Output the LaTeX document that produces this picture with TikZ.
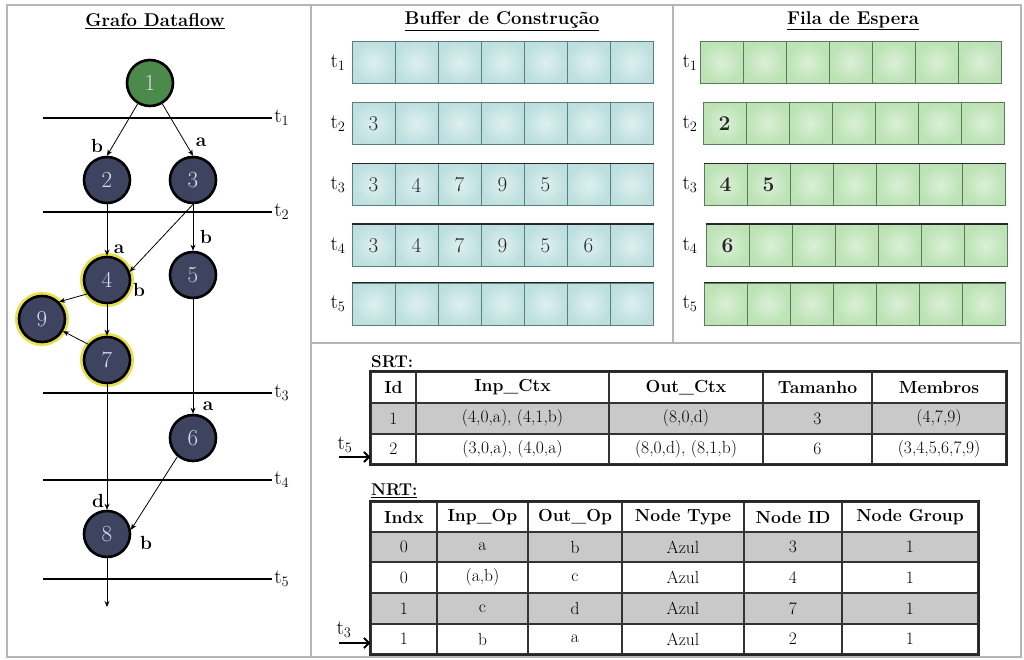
\documentclass[tikz,border=0pt]{standalone}
\usetikzlibrary{arrows.meta}
\definecolor{nodeblue}{HTML}{3E4460}
\definecolor{nodegreen}{HTML}{4B8A4A}
\definecolor{ringyellow}{HTML}{E8E04A}
\definecolor{bufin}{HTML}{DDF0F0}
\definecolor{bufout}{HTML}{BEDFDF}
\definecolor{bufline}{HTML}{5A7D7D}
\definecolor{filain}{HTML}{DAF0D6}
\definecolor{filaout}{HTML}{BCE2B5}
\definecolor{filaline}{HTML}{5B7A58}
\definecolor{rowgray}{HTML}{C9C9C9}
\definecolor{framegray}{HTML}{B5B5B5}
\definecolor{numtext}{HTML}{DADDE8}
\newcommand\myfs[1]{\fontsize{#1}{#1}\selectfont}
\begin{document}
\begin{tikzpicture}[x=1pt,y=-1pt,
  frame/.style={draw=framegray, line width=1.5},
  title/.style={font=\bfseries\myfs{18.5}},
  gnode/.style={circle, draw=black, line width=2.6, fill=nodeblue, minimum size=46, inner sep=0, text=numtext, font=\myfs{23}},
  gnodegreen/.style={gnode, fill=nodegreen},
  ynode/.style={gnode, preaction={draw=ringyellow, line width=8}},
  edge/.style={-{Stealth[length=6,width=5]}, line width=0.8},
  tline/.style={line width=2.6},
  tlab/.style={font=\myfs{20}, inner sep=1},
  elab/.style={font=\bfseries\myfs{19}, inner sep=0},
  bcell/.style={rectangle, draw=bufline, line width=1, minimum width=43, minimum height=42, inner sep=0, inner color=bufin, outer color=bufout},
  fcell/.style={rectangle, draw=filaline, line width=1, minimum width=43, minimum height=42, inner sep=0, inner color=filain, outer color=filaout},
  bnum/.style={font=\myfs{21}, text=black!85, inner sep=0},
  fnum/.style={font=\bfseries\myfs{21}, text=black!85, inner sep=0},
  tcell/.style={rectangle, draw=black!80, line width=1.2, inner sep=0, font=\myfs{17.5}},
  thead/.style={tcell, font=\bfseries\myfs{17.5}},
  gcell/.style={tcell, fill=rowgray},
  tarrow/.style={-{Straight Barb[length=5,width=10]}, line width=2},
]
\useasboundingbox (0,0) rectangle (1024,660);
% frames
\draw[frame] (7,5) rectangle (1021,657);
\draw[frame] (311,5) -- (311,657);
\draw[frame] (673,5) -- (673,343);
\draw[frame] (311,343) -- (1021,343);

% ---------- Grafo Dataflow ----------
\node[title] (tg) at (155,21) {\underline{Grafo Dataflow}};
\foreach \i/\y in {1/118,2/212,3/393,4/480,5/579}{
  \draw[tline] (43,\y) -- (272,\y) node[tlab, right] (gl\i) {$\mathrm{t}_{\i}$};
}
\node[gnodegreen] (n1) at (150,83) {1};
\node[gnode] (n2) at (107,180) {2};
\node[gnode] (n3) at (193,180) {3};
\node[ynode] (n4) at (107,280) {4};
\node[gnode] (n5) at (193,275) {5};
\node[ynode] (n9) at (42,319) {9};
\node[ynode] (n7) at (107,360) {7};
\node[gnode] (n6) at (193,438) {6};
\node[gnode] (n8) at (107,534) {8};
\coordinate (gend) at (107,607);

\draw[edge] (n1) -- (n2.north);
\draw[edge] (n1) -- (n3.north);
\draw[edge] (n2) -- (n4);
\draw[edge] (n3.south) -- (n4.20);
\draw[edge] (n3) -- (n5);
\draw[edge] (n4.215) -- (n9.45);
\draw[edge] (n4) -- (n7);
\draw[edge] (n7.140) -- (n9.-30);
\draw[edge] (n5) -- (n6);
\draw[edge] (n7) -- (n8);
\draw[edge] (n6.230) -- (n8.10);
\draw[edge] (n8) -- (gend);

\node[elab] (e1) at (97,146) {b};
\node[elab] (e2) at (201,142) {a};
\node[elab] (e3) at (119,249) {a};
\node[elab] (e4) at (139,290) {b};
\node[elab] (e5) at (206,237) {b};
\node[elab] (e6) at (208,406) {a};
\node[elab] (e7) at (98,501) {d};
\node[elab] (e8) at (146,543) {b};

% ---------- Buffer de Construcao ----------
\node[title] (tb) at (502,21) {\underline{Buffer de Construção}};
\foreach \r/\y in {1/62.5,2/123.5,3/185,4/245.5,5/304}{
  \node[tlab] (bl\r) at (338,\y) {$\mathrm{t}_{\r}$};
  \foreach \c in {1,...,7}{
    \node[bcell] (b\r-\c) at ({352+43*(\c-0.5)},\y) {};
  }
}
\foreach \r in {3,4,5}{
  \draw[line width=1.6, black!85] (b\r-1.north west) -- (b\r-7.north east);
}
\node[bnum] (bv2-1) at (b2-1) {3};
\foreach \v [count=\c] in {3,4,7,9,5}{ \node[bnum] (bv3-\c) at (b3-\c) {\v}; }
\foreach \v [count=\c] in {3,4,7,9,5,6}{ \node[bnum] (bv4-\c) at (b4-\c) {\v}; }

% ---------- Fila de Espera ----------
\node[title] (tf) at (853,21) {\underline{Fila de Espera}};
\foreach \r/\y/\x in {1/62.5/700,2/123.5/703,3/185/704,4/245.5/706,5/304/704}{
  \node[tlab] (fl\r) at (690,\y) {$\mathrm{t}_{\r}$};
  \foreach \c in {1,...,7}{
    \node[fcell] (f\r-\c) at ({\x+43*(\c-0.5)},\y) {};
  }
}
\foreach \r in {3,4,5}{
  \draw[line width=1.6, black!85] (f\r-1.north west) -- (f\r-7.north east);
}
\node[fnum] (fv2-1) at (f2-1) {2};
\node[fnum] (fv3-1) at (f3-1) {4};
\node[fnum] (fv3-2) at (f3-2) {5};
\node[fnum] (fv4-1) at (f4-1) {6};

% ---------- SRT ----------
\node[font=\bfseries\myfs{17}, anchor=west, inner sep=0] (srtlab) at (371,362) {SRT:};
\foreach \cx/\w/\txt [count=\c] in {393.5/45/Id, 512.5/193/Inp\_Ctx, 686/154/Out\_Ctx, 817.5/109/Tamanho, 939/134/Membros}{
  \node[thead, minimum width=\w, minimum height=31] (s0-\c) at (\cx,387.5) {\txt};
}
\foreach \cx/\w/\txt [count=\c] in {393.5/45/1, 512.5/193/{(4,0,a), (4,1,b)}, 686/154/{(8,0,d)}, 817.5/109/3, 939/134/{(4,7,9)}}{
  \node[gcell, minimum width=\w, minimum height=31] (s1-\c) at (\cx,418.5) {\txt};
}
\foreach \cx/\w/\txt [count=\c] in {393.5/45/2, 512.5/193/{(3,0,a), (4,0,a)}, 686/154/{(8,0,d), (8,1,b)}, 817.5/109/6, 939/134/{(3,4,5,6,7,9)}}{
  \node[tcell, minimum width=\w, minimum height=30] (s2-\c) at (\cx,449) {\txt};
}
\draw[line width=2, black!85] (s0-1.north west) rectangle (s2-5.south east);
\coordinate (t5s) at (339,457);
\draw[tarrow] (t5s) -- ([yshift=-8pt]s2-1.west);
\node[tlab] (t5l) at (345,445) {$\mathrm{t}_{5}$};

% ---------- NRT ----------
\node[font=\bfseries\myfs{17}, anchor=west, inner sep=0] (nrtlab) at (371,491) {\underline{NRT:}};
\foreach \cx/\w/\txt [count=\c] in {404/66/Indx, 482.5/91/Inp\_Op, 575/94/Out\_Op, 683/122/Node Type, 793/98/Node ID, 910/136/Node Group}{
  \node[thead, minimum width=\w, minimum height=30] (r0-\c) at (\cx,517) {\txt};
}
\foreach \cx/\w/\txt [count=\c] in {404/66/0, 482.5/91/a, 575/94/b, 683/122/Azul, 793/98/3, 910/136/1}{
  \node[gcell, minimum width=\w, minimum height=30] (r1-\c) at (\cx,547) {\txt};
}
\foreach \cx/\w/\txt [count=\c] in {404/66/0, 482.5/91/{(a,b)}, 575/94/c, 683/122/Azul, 793/98/4, 910/136/1}{
  \node[tcell, minimum width=\w, minimum height=31] (r2-\c) at (\cx,577.5) {\txt};
}
\foreach \cx/\w/\txt [count=\c] in {404/66/1, 482.5/91/c, 575/94/d, 683/122/Azul, 793/98/7, 910/136/1}{
  \node[gcell, minimum width=\w, minimum height=31] (r3-\c) at (\cx,608.5) {\txt};
}
\foreach \cx/\w/\txt [count=\c] in {404/66/1, 482.5/91/b, 575/94/a, 683/122/Azul, 793/98/2, 910/136/1}{
  \node[tcell, minimum width=\w, minimum height=30] (r4-\c) at (\cx,639) {\txt};
}
\draw[line width=2, black!85] (r0-1.north west) rectangle (r4-6.south east);
\coordinate (t3s) at (339,643);
\draw[tarrow] (t3s) -- ([yshift=-4pt]r4-1.west);
\node[tlab] (t3l) at (344,630) {$\mathrm{t}_{3}$};
\end{tikzpicture}
\end{document}
